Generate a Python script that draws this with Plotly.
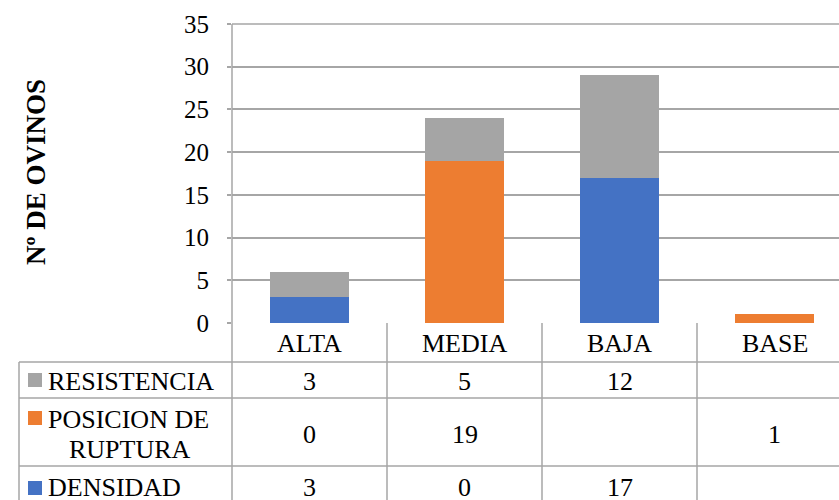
import plotly.graph_objects as go

categories = ["ALTA", "MEDIA", "BAJA", "BASE"]
series_labels = [["RESISTENCIA"], ["POSICION DE", "RUPTURA"], ["DENSIDAD"]]
resistencia = [3, 5, 12, None]
posicion = [0, 19, None, 1]
densidad = [3, 0, 17, None]
colors = {"RESISTENCIA": "#A5A5A5", "POSICION": "#ED7D31", "DENSIDAD": "#4472C4"}
y_ticks = [0, 5, 10, 15, 20, 25, 30, 35]
y_title = "Nº DE OVINOS"

W, H = 839, 500
L, R, T, B = 232, 839, 24, 323
FONT = "'Liberation Serif', 'Times New Roman', Times, serif"
LINE = "#a6a6a6"
FS = 26


def px(x):
    return (x - L) / (R - L)


def py(y):
    return (B - y) / (B - T)


fig = go.Figure()
fig.add_trace(go.Bar(x=categories, y=densidad, name="DENSIDAD",
                     marker=dict(color=colors["DENSIDAD"], line=dict(width=0))))
fig.add_trace(go.Bar(x=categories, y=posicion, name="POSICION DE RUPTURA",
                     marker=dict(color=colors["POSICION"], line=dict(width=0))))
fig.add_trace(go.Bar(x=categories, y=resistencia, name="RESISTENCIA",
                     marker=dict(color=colors["RESISTENCIA"], line=dict(width=0))))

shapes = []
annotations = []


def hline(y, x0, x1):
    shapes.append(dict(type="line", xref="paper", yref="paper", x0=px(x0), x1=px(x1),
                       y0=py(y), y1=py(y), line=dict(color=LINE, width=1.5)))


def vline(x, y0, y1):
    shapes.append(dict(type="line", xref="paper", yref="paper", x0=px(x), x1=px(x),
                       y0=py(y0), y1=py(y1), line=dict(color=LINE, width=1.5)))


def text(x, y, s, xref="paper", xanchor="center", size=FS):
    annotations.append(dict(x=x, xref=xref, y=py(y), yref="paper", text=s, showarrow=False,
                            xanchor=xanchor, yanchor="middle",
                            font=dict(family=FONT, size=size, color="black")))


# table grid
for yy in [362, 398, 466]:
    hline(yy, 19, 839)
hline(T, L, R)
vline(19, 362, 500)
for i in range(len(categories)):
    vline(L + i * 155, 323, 500)
vline(L, T, 323)

# header labels
for i, c in enumerate(categories):
    text(i, 343, c, xref="x")

rows = [
    (series_labels[0], resistencia, colors["RESISTENCIA"], 381, 380),
    (series_labels[1], posicion, colors["POSICION"], 434, 418),
    (series_labels[2], densidad, colors["DENSIDAD"], 487, 488),
]
for label, vals, col, yc, ykey in rows:
    shapes.append(dict(type="rect", xref="paper", yref="paper", x0=px(28), x1=px(42),
                       y0=py(ykey - 7), y1=py(ykey + 7), fillcolor=col, line=dict(width=0)))
    if len(label) == 1:
        text(px(46), yc, label[0], xanchor="left")
    else:
        text(px(46), ykey + 1, label[0], xanchor="left")
        text(px(130), ykey + 31, label[1])
    for i, v in enumerate(vals):
        if v is None:
            continue
        text(i, yc, str(v), xref="x")

annotations.append(dict(x=px(36), xref="paper", y=py(172), yref="paper",
                        text="<b>" + y_title + "</b>", textangle=-90, showarrow=False,
                        xanchor="center", yanchor="middle",
                        font=dict(family=FONT, size=27, color="black")))

fig.update_layout(
    width=W, height=H,
    margin=dict(l=L, r=W - R, t=T, b=H - B, pad=0),
    barmode="stack",
    bargap=0.49,
    plot_bgcolor="white",
    paper_bgcolor="white",
    showlegend=False,
    shapes=shapes,
    annotations=annotations,
    font=dict(family=FONT),
    xaxis=dict(range=[-0.5, -0.5 + (R - L) / 155], showticklabels=False, showgrid=False,
               zeroline=False, showline=False, ticks=""),
    yaxis=dict(range=[0, 35], tickvals=y_ticks, showgrid=True, gridcolor=LINE, gridwidth=1.5,
               zeroline=False, showline=False, ticks="outside", ticklen=4, tickcolor=LINE,
               tickwidth=1.5, ticklabelstandoff=13,
               tickfont=dict(family=FONT, size=25, color="black")),
)

fig.write_html("out.html")
